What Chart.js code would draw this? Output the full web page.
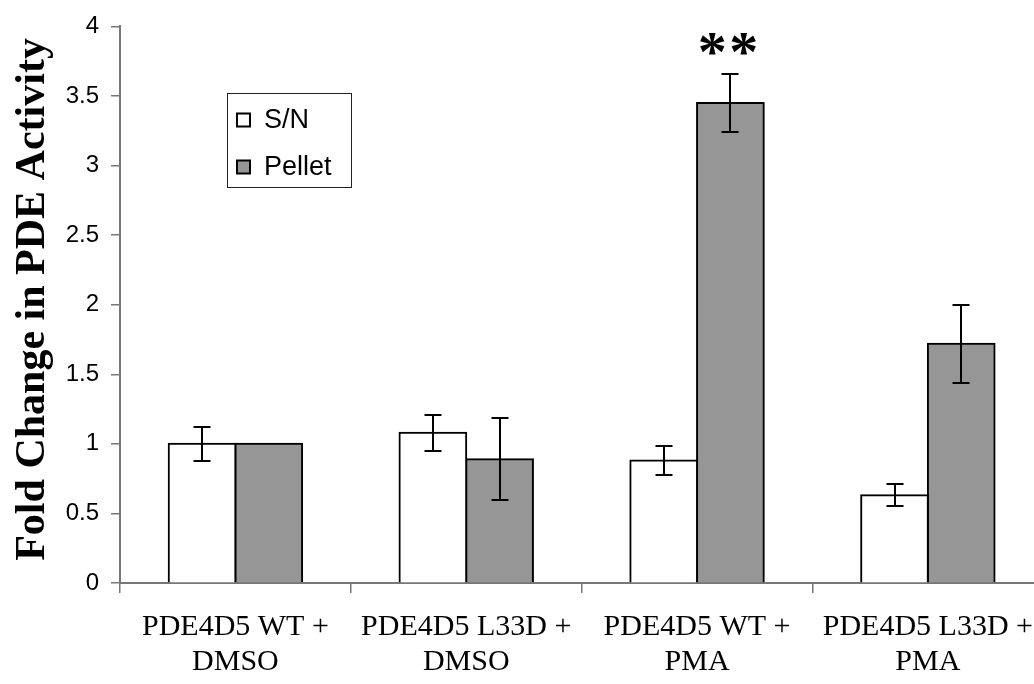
<!DOCTYPE html>
<html>
<head>
<meta charset="utf-8">
<script src="https://cdn.jsdelivr.net/npm/chart.js@4.4.1/dist/chart.umd.min.js"></script>
<style>
  html, body { margin: 0; padding: 0; background: #fff; overflow: hidden; width: 1034px; height: 684px; }
  #wrap { position: absolute; left: 0; top: 0; width: 1050px; height: 684px; }
  canvas { display: block; }
</style>
</head>
<body>
<div id="wrap"><canvas id="c" width="1050" height="684"></canvas></div>
<script>
// ---- data ----
const categories = [
  ['PDE4D5 WT +', 'DMSO'],
  ['PDE4D5 L33D +', 'DMSO'],
  ['PDE4D5 WT +', 'PMA'],
  ['PDE4D5 L33D +', 'PMA']
];
const seriesNames = ['S/N', 'Pellet'];
const snValues = [1.00, 1.08, 0.88, 0.63];
const snErrors = [0.12, 0.13, 0.105, 0.08];
const pelletValues = [1.00, 0.89, 3.45, 1.72];
const pelletErrors = [0, 0.295, 0.21, 0.28];
const pelletMarks = ['', '', '**', ''];
const yMin = 0, yMax = 4, yStep = 0.5;
const yTitle = ' Fold Change in PDE Activity';

const errorsByDataset = [snErrors, pelletErrors];
const marksByDataset = [null, pelletMarks];

const errorBarPlugin = {
  id: 'errorBars',
  afterDatasetsDraw(chart) {
    const ctx = chart.ctx;
    const y = chart.scales.y;
    ctx.save();
    ctx.strokeStyle = '#000';
    ctx.lineWidth = 2;
    chart.data.datasets.forEach((ds, i) => {
      const meta = chart.getDatasetMeta(i);
      const errs = errorsByDataset[i];
      meta.data.forEach((bar, j) => {
        const e = errs[j];
        if (!e) return;
        const v = ds.data[j];
        const x = Math.round(bar.x);
        const yt = Math.round(y.getPixelForValue(v + e));
        const yb = Math.round(y.getPixelForValue(v - e));
        const hw = 8.5;
        ctx.beginPath();
        ctx.moveTo(x, yt); ctx.lineTo(x, yb);
        ctx.moveTo(x - hw, yt); ctx.lineTo(x + hw, yt);
        ctx.moveTo(x - hw, yb); ctx.lineTo(x + hw, yb);
        ctx.stroke();
      });
      const marks = marksByDataset[i];
      if (marks) {
        meta.data.forEach((bar, j) => {
          if (!marks[j]) return;
          const v = ds.data[j] + (errs[j] || 0);
          const yp = y.getPixelForValue(v);
          ctx.fillStyle = '#000';
          ctx.font = 'bold 58px "Liberation Serif"';
          ctx.textAlign = 'center';
          ctx.textBaseline = 'alphabetic';
          const chars = marks[j].split('');
          const gap = 31.5;
          const cx = bar.x - 2.5;
          chars.forEach((ch, k) => {
            const xx = cx + (k - (chars.length - 1) / 2) * gap;
            ctx.fillText(ch, xx, yp - 3);
          });
        });
      }
    });
    ctx.restore();
  }
};

const legendPlugin = {
  id: 'boxLegend',
  afterDraw(chart) {
    const ctx = chart.ctx;
    ctx.save();
    const bx = 227, by = 93, bw = 124, bh = 94;
    ctx.strokeStyle = '#222';
    ctx.lineWidth = 1;
    ctx.strokeRect(bx + 0.5, by + 0.5, bw, bh);
    const rows = [120, 167];
    ctx.font = '27px "Liberation Sans"';
    ctx.textAlign = 'left';
    ctx.textBaseline = 'middle';
    chart.data.datasets.forEach((ds, i) => {
      const cy = rows[i];
      ctx.fillStyle = ds.backgroundColor;
      ctx.fillRect(237, cy - 6.5, 13, 13);
      ctx.strokeStyle = '#000';
      ctx.lineWidth = 2;
      ctx.strokeRect(237, cy - 6.5, 13, 13);
      ctx.fillStyle = '#000';
      ctx.fillText(ds.label, 264, cy + 1);
    });
    ctx.restore();
  }
};

new Chart(document.getElementById('c'), {
  type: 'bar',
  data: {
    labels: categories,
    datasets: [
      { label: seriesNames[0], data: snValues, backgroundColor: '#ffffff', borderColor: '#000', borderWidth: 2, inflateAmount: 1 },
      { label: seriesNames[1], data: pelletValues, backgroundColor: '#969696', borderColor: '#000', borderWidth: 2, inflateAmount: 1 }
    ]
  },
  options: {
    responsive: false,
    animation: false,
    devicePixelRatio: 1,
    layout: { padding: { top: 24, right: 0, bottom: 4, left: 0 } },
    datasets: { bar: { categoryPercentage: 0.578, barPercentage: 1.0 } },
    plugins: { legend: { display: false }, tooltip: { enabled: false } },
    scales: {
      x: {
        offset: true,
        afterFit(scale) { scale.height = 97; },
        grid: { display: true, drawOnChartArea: false, offset: true, tickLength: 10, color: '#777', lineWidth: 1.5 },
        border: { display: true, color: '#777', width: 2 },
        ticks: {
          color: '#000', padding: 17, maxRotation: 0, autoSkip: false,
          font: { family: '"Liberation Serif"', size: 30, lineHeight: 1.1667 }
        }
      },
      y: {
        min: yMin, max: yMax,
        afterFit(scale) { scale.width = 120; },
        grid: { display: true, drawOnChartArea: false, tickLength: 9, color: '#777', lineWidth: 1.5 },
        border: { display: true, color: '#777', width: 2 },
        ticks: {
          stepSize: yStep, color: '#000', padding: 12,
          callback: (v) => Number(v).toString(),
          font: { family: '"Liberation Sans"', size: 24 }
        },
        title: {
          display: true, text: yTitle, color: '#000',
          padding: { top: 8, bottom: 0 },
          font: { family: '"Liberation Serif"', size: 42, weight: 'bold', lineHeight: 1.2 }
        }
      }
    }
  },
  plugins: [errorBarPlugin, legendPlugin]
});
</script>
</body>
</html>
